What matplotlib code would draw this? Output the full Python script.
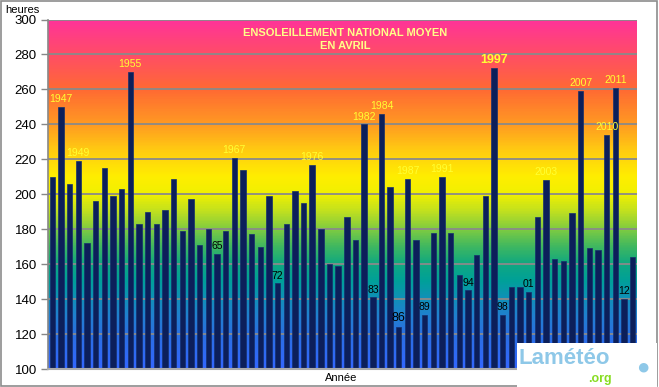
import matplotlib
matplotlib.use("Agg")
import matplotlib.pyplot as plt
import numpy as np
from matplotlib.colors import LinearSegmentedColormap
from matplotlib.patches import Rectangle

plt.rcParams['font.family'] = ['Liberation Sans', 'DejaVu Sans']

years = list(range(1946, 2014))
hours = [210, 250, 206, 219, 172, 196, 215, 199, 203, 270,
         183, 190, 183, 191, 209, 179, 197, 171, 180, 166,
         179, 221, 214, 177, 170, 199, 149, 183, 202, 195,
         217, 180, 160, 159, 187, 174, 240, 141, 246, 204,
         124, 209, 174, 131, 178, 210, 178, 154, 145, 165,
         199, 272, 131, 147, 147, 144, 187, 208, 163, 162,
         189, 259, 169, 168, 234, 261, 140, 164]

yellow_labels = {1947: "1947", 1949: "1949", 1955: "1955", 1967: "1967",
                 1976: "1976", 1982: "1982", 1984: "1984", 1987: "1987",
                 1991: "1991", 2003: "2003", 2007: "2007", 2010: "2010",
                 2011: "2011"}
bold_labels = {1997: "1997"}
black_labels = {1965: "65", 1972: "72", 1983: "83", 1989: "89", 1994: "94",
                1998: "98", 2001: "01", 2012: "12"}
big_black_labels = {1986: "86"}

yticks = list(range(100, 301, 20))

W, H = 659, 387
fig = plt.figure(figsize=(W / 100, H / 100), dpi=100)
ax = fig.add_axes([48 / W, (H - 369) / H, (637 - 48) / W, (369 - 19.5) / H])

# background gradient
grad_stops = [
    (100, '#3366ff'), (120, '#2a70e0'), (130, '#2080d0'), (140, '#1090b8'),
    (150, '#00a099'), (160, '#10a880'), (170, '#40b860'), (180, '#80cc40'),
    (190, '#c0e020'), (200, '#f0f000'), (210, '#ffee00'), (225, '#ffcc11'),
    (240, '#ff9a22'), (260, '#ff6a33'), (280, '#ff4d66'), (300, '#ff3399'),
]
cmap = LinearSegmentedColormap.from_list(
    'bg', [((v - 100) / 200, c) for v, c in grad_stops])
n = len(years)
grad = np.linspace(0, 1, 400).reshape(-1, 1)
ax.imshow(grad, aspect='auto', cmap=cmap, origin='lower',
          extent=[-0.5, n - 0.5, 100, 300], zorder=0)

x = np.arange(n)
ax.bar(x, [h - 100 for h in hours], bottom=100, width=0.62,
       color='#0c1f5a', edgecolor='#16306e', linewidth=0.5, zorder=3)

ax.set_xlim(-0.5, n - 0.5)
ax.set_ylim(100, 300)
ax.set_yticks(yticks)
ax.set_axisbelow(True)
ax.yaxis.grid(True, color='#8a8a8a', linewidth=1.3)
ax.set_xticks([])
ax.tick_params(axis='y', length=5, width=1, color='#888888', labelsize=9.5,
               pad=3, labelcolor='black')
for s in ['top', 'right']:
    ax.spines[s].set_visible(False)
ax.spines['left'].set_color('#888888')
ax.spines['bottom'].set_color('#aaaaaa')
ax.spines['left'].set_linewidth(1.2)
ax.spines['bottom'].set_linewidth(1.5)
ax.spines['left'].set_zorder(4)
ax.spines['bottom'].set_zorder(4)

def label(d, color, size, weight='normal', dy=2):
    for yr, txt in d.items():
        i = years.index(yr)
        ax.annotate(txt, (i, hours[i]), xytext=(0, dy), textcoords='offset points',
                    ha='center', va='bottom', color=color, fontsize=size,
                    fontweight=weight, zorder=5)

label(yellow_labels, '#ffff33', 7.5)
label(bold_labels, '#ffff33', 9, 'bold')
label(black_labels, 'black', 7.5)
label(big_black_labels, 'black', 9)

ax.text(0.505, 0.975, "ENSOLEILLEMENT NATIONAL MOYEN\nEN AVRIL", transform=ax.transAxes,
        ha='center', va='top', color='#ffff88', fontsize=8, fontweight='bold',
        linespacing=1.3, zorder=6)

fig.text(5 / W, 1 - 10 / H, "heures", ha='left', va='center', fontsize=8)
fig.text(341 / W, 1 - 378 / H, "Année", ha='center', va='center', fontsize=8)

# outer border
fig.patches.append(Rectangle((0.5 / W, 1.5 / H), (W - 2.5) / W, (H - 2.5) / H,
                             transform=fig.transFigure, fill=False,
                             edgecolor='#8c8c8c', linewidth=1.2))

# logo
fig.patches.append(Rectangle((517 / W, 0), 140 / W, 44 / H, transform=fig.transFigure,
                             facecolor='white', edgecolor='none', zorder=10))
fig.text(519 / W, 1 - 358 / H, "Lamétéo", ha='left', va='center', fontsize=16,
         fontweight='bold', color='#8ec8e8', zorder=11)
fig.text(600 / W, 1 - 379 / H, ".org", ha='center', va='center', fontsize=9,
         fontweight='bold', color='#88dd22', zorder=11)
fig.text(643 / W, 1 - 368 / H, "●", ha='center', va='center', fontsize=16,
         color='#8ec8e8', zorder=11)

fig.savefig("out.png", dpi=100)
